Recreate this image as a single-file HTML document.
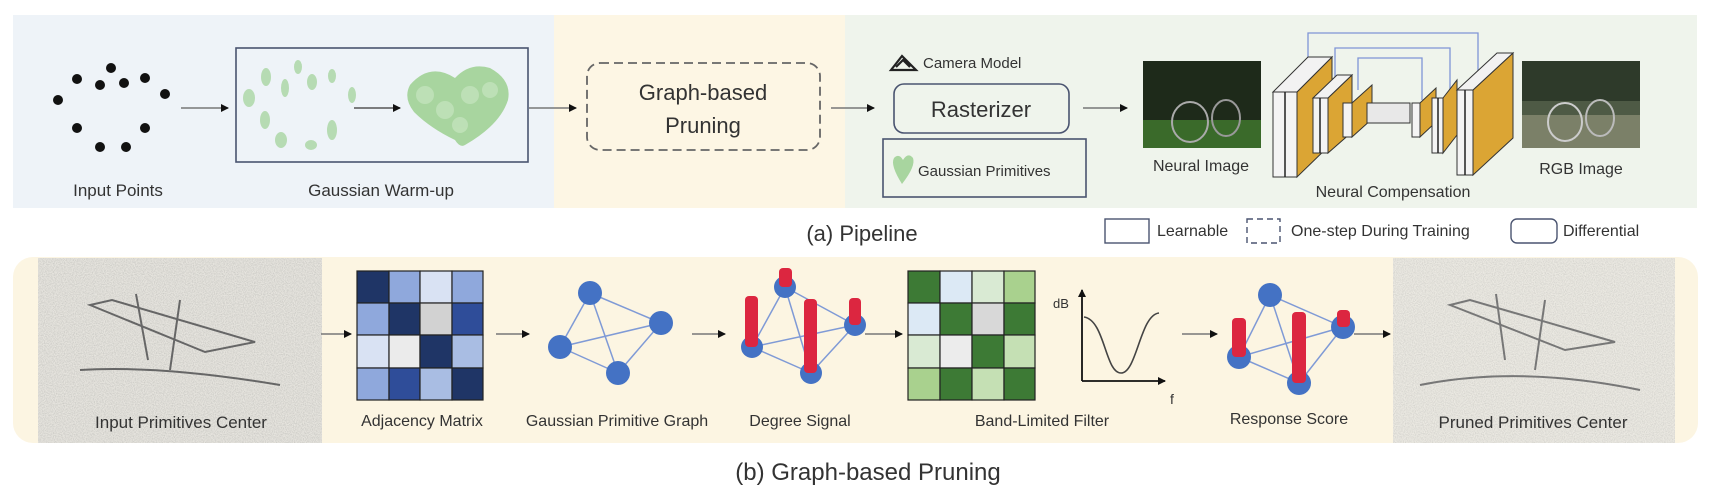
<!DOCTYPE html>
<html><head><meta charset="utf-8"><style>
html,body{margin:0;padding:0;background:#fff;}
svg{display:block;}
text{font-family:"Liberation Sans",sans-serif;fill:#333;}
</style></head><body>
<svg width="1718" height="500" viewBox="0 0 1718 500" xmlns="http://www.w3.org/2000/svg">
<defs>
<marker id="ah" markerWidth="8" markerHeight="8" refX="7" refY="4" orient="auto" markerUnits="userSpaceOnUse"><path d="M0,0 L8,4 L0,8 z" fill="#111"/></marker>
<filter id="nz" x="0" y="0" width="1" height="1"><feTurbulence type="fractalNoise" baseFrequency="0.9" numOctaves="2" seed="3"/><feColorMatrix values="0 0 0 0 0.45  0 0 0 0 0.45  0 0 0 0 0.43  0 0 0 -1.6 1.05"/></filter>
</defs>
<!-- top panel -->
<rect x="13" y="15" width="541" height="193" fill="#eef3f8"/>
<rect x="554" y="15" width="291" height="193" fill="#fdf6e4"/>
<rect x="845" y="15" width="852" height="193" fill="#eff4ec"/>
<g fill="#111">
<circle cx="58" cy="100" r="5"/><circle cx="77" cy="79" r="5"/><circle cx="100" cy="85" r="5"/><circle cx="111" cy="68" r="5"/><circle cx="124" cy="83" r="5"/><circle cx="145" cy="78" r="5"/><circle cx="165" cy="94" r="5"/><circle cx="77" cy="128" r="5"/><circle cx="145" cy="128" r="5"/><circle cx="100" cy="147" r="5"/><circle cx="126" cy="147" r="5"/>
</g>
<text x="118" y="196" font-size="17" text-anchor="middle">Input Points</text>
<line x1="181" y1="108" x2="228" y2="108" stroke="#777" stroke-width="1.5" marker-end="url(#ah)"/>
<rect x="236" y="48" width="292" height="114" fill="none" stroke="#4a5470" stroke-width="1.6"/>
<g fill="#a9d6a2" opacity="0.8">
<ellipse cx="249" cy="98" rx="6" ry="9"/><ellipse cx="266" cy="77" rx="5" ry="9"/><ellipse cx="285" cy="88" rx="4" ry="9"/><ellipse cx="298" cy="67" rx="4" ry="7"/><ellipse cx="312" cy="82" rx="5" ry="8"/><ellipse cx="332" cy="76" rx="4" ry="7"/><ellipse cx="352" cy="95" rx="4" ry="8"/><ellipse cx="265" cy="120" rx="5" ry="9"/><ellipse cx="332" cy="130" rx="5" ry="10"/><ellipse cx="281" cy="140" rx="6" ry="8"/><ellipse cx="311" cy="145" rx="6" ry="5"/>
</g>
<line x1="354" y1="108" x2="400" y2="108" stroke="#555" stroke-width="1.5" marker-end="url(#ah)"/>
<path d="M410,85 Q430,62 455,78 Q470,62 490,68 Q512,80 508,100 Q500,125 465,145 Q460,148 455,140 Q430,128 414,112 Q403,98 410,85 z" fill="#a8d59f"/>
<g fill="#c3e3bc" opacity="0.8"><circle cx="425" cy="95" r="9"/><circle cx="445" cy="110" r="9"/><circle cx="470" cy="95" r="9"/><circle cx="490" cy="90" r="8"/><circle cx="460" cy="125" r="8"/></g>
<text x="381" y="196" font-size="17" text-anchor="middle">Gaussian Warm-up</text>
<line x1="529" y1="108" x2="576" y2="108" stroke="#777" stroke-width="1.5" marker-end="url(#ah)"/>
<rect x="587" y="63" width="233" height="87" rx="13" fill="none" stroke="#666" stroke-width="1.8" stroke-dasharray="9,5"/>
<text x="703" y="100" font-size="22" text-anchor="middle">Graph-based</text>
<text x="703" y="133" font-size="22" text-anchor="middle">Pruning</text>
<line x1="831" y1="108" x2="874" y2="108" stroke="#777" stroke-width="1.5" marker-end="url(#ah)"/>
<path d="M891,70 L902,56 L916,70 z M896,67 L903,60 L910,67" fill="none" stroke="#222" stroke-width="2.2"/>
<text x="923" y="68" font-size="15">Camera Model</text>
<rect x="894" y="84" width="175" height="49" rx="10" fill="none" stroke="#4a5470" stroke-width="1.6"/>
<text x="981" y="117" font-size="22" text-anchor="middle">Rasterizer</text>
<rect x="883" y="139" width="203" height="58" fill="none" stroke="#4a5470" stroke-width="1.6"/>
<path d="M902,184 Q890,165 894,158 Q899,153 903,160 Q908,152 913,158 Q916,166 902,184 z" fill="#a8d59f"/>
<text x="918" y="176" font-size="15">Gaussian Primitives</text>
<line x1="1083" y1="108" x2="1127" y2="108" stroke="#777" stroke-width="1.5" marker-end="url(#ah)"/>
<rect x="1143" y="61" width="118" height="87" fill="#1e2a1a"/>
<rect x="1143" y="120" width="118" height="28" fill="#3a6a2a"/>
<ellipse cx="1190" cy="122" rx="18" ry="20" fill="none" stroke="#aaa" stroke-width="2"/><ellipse cx="1226" cy="118" rx="14" ry="18" fill="none" stroke="#999" stroke-width="2"/>
<text x="1201" y="171" font-size="16" text-anchor="middle">Neural Image</text>
<g fill="none" stroke="#7f95d6" stroke-width="1.3">
<path d="M1308,72 V33 H1478 V75"/><path d="M1335,78 V48 H1450 V95"/><path d="M1358,90 V58 H1422 V100"/>
</g>
<g stroke="#333" stroke-width="1">
<polygon points="1297,92 1332,57 1332,143 1297,177" fill="#dba534"/>
<polygon points="1273,92 1297,92 1332,57 1308,57" fill="#f2f2f2"/>
<rect x="1273" y="92" width="24" height="85" fill="#f4f4f4"/>
<polygon points="1328,98 1352,75 1352,132 1328,153" fill="#dba534"/>
<polygon points="1313,98 1328,98 1352,75 1337,75" fill="#f2f2f2"/>
<rect x="1313" y="98" width="15" height="55" fill="#f4f4f4"/>
<polygon points="1352,103 1372,85 1372,119 1352,137" fill="#dba534"/>
<rect x="1343" y="103" width="9" height="34" fill="#f4f4f4"/>
<rect x="1367" y="103" width="43" height="20" fill="#e8e8e8"/>
<polygon points="1420,103 1436,88 1436,122 1420,137" fill="#dba534"/>
<rect x="1412" y="103" width="8" height="34" fill="#f4f4f4"/>
<polygon points="1443,98 1457,80 1457,135 1443,153" fill="#dba534"/>
<rect x="1432" y="98" width="11" height="55" fill="#f4f4f4"/>
<polygon points="1473,90 1513,53 1513,138 1473,175" fill="#dba534"/>
<polygon points="1457,90 1473,90 1513,53 1497,53" fill="#f2f2f2"/>
<rect x="1457" y="90" width="16" height="85" fill="#f4f4f4"/>
</g>
<g stroke="#222" stroke-width="1.5"><line x1="1285" y1="92" x2="1285" y2="177"/><line x1="1320" y1="98" x2="1320" y2="153"/><line x1="1465" y1="90" x2="1465" y2="175"/><line x1="1438" y1="98" x2="1438" y2="153"/></g>
<text x="1393" y="197" font-size="16" text-anchor="middle">Neural Compensation</text>
<rect x="1522" y="61" width="118" height="87" fill="#4e5a45"/>
<rect x="1522" y="61" width="118" height="40" fill="#2e3a2a"/>
<rect x="1522" y="115" width="118" height="33" fill="#7b8068"/>
<ellipse cx="1565" cy="122" rx="17" ry="19" fill="none" stroke="#ccc" stroke-width="2"/><ellipse cx="1600" cy="118" rx="14" ry="18" fill="none" stroke="#bbb" stroke-width="2"/>
<text x="1581" y="174" font-size="16" text-anchor="middle">RGB Image</text>
<text x="862" y="241" font-size="22" text-anchor="middle">(a) Pipeline</text>
<rect x="1105" y="219" width="44" height="24" fill="none" stroke="#4a5470" stroke-width="1.4"/>
<text x="1157" y="236" font-size="16">Learnable</text>
<rect x="1247" y="219" width="33" height="24" fill="none" stroke="#4a5470" stroke-width="1.4" stroke-dasharray="6,4"/>
<text x="1291" y="236" font-size="16">One-step During Training</text>
<rect x="1511" y="219" width="46" height="24" rx="6" fill="none" stroke="#4a5470" stroke-width="1.4"/>
<text x="1563" y="236" font-size="16">Differential</text>
<!-- bottom panel -->
<rect x="13" y="257" width="1685" height="186" rx="20" fill="#fcf5e2"/>
<rect x="38" y="258" width="284" height="185" fill="#e6e4de"/>
<rect x="38" y="258" width="284" height="185" filter="url(#nz)" opacity="0.7"/>
<g fill="none" stroke="#666" stroke-width="2"><path d="M90,305 L205,352 L255,342 L112,300 z"/><line x1="136" y1="294" x2="148" y2="360"/><line x1="180" y1="300" x2="170" y2="370"/><path d="M80,370 Q160,365 280,385"/></g>
<text x="181" y="428" font-size="17" text-anchor="middle" fill="#333">Input Primitives Center</text>
<line x1="321" y1="334" x2="351" y2="334" stroke="#777" stroke-width="1.5" marker-end="url(#ah)"/>
<g stroke="#222" stroke-width="1.2">
<rect x="357" y="271" width="32" height="32" fill="#1f3566"/><rect x="389" y="271" width="31" height="32" fill="#8fa8dc"/><rect x="420" y="271" width="32" height="32" fill="#d9e2f3"/><rect x="452" y="271" width="31" height="32" fill="#8fa8dc"/>
<rect x="357" y="303" width="32" height="32" fill="#8fa8dc"/><rect x="389" y="303" width="31" height="32" fill="#1f3566"/><rect x="420" y="303" width="32" height="32" fill="#d2d2d2"/><rect x="452" y="303" width="31" height="32" fill="#2f4d99"/>
<rect x="357" y="335" width="32" height="33" fill="#d9e2f3"/><rect x="389" y="335" width="31" height="33" fill="#ebebeb"/><rect x="420" y="335" width="32" height="33" fill="#1f3566"/><rect x="452" y="335" width="31" height="33" fill="#a9bde3"/>
<rect x="357" y="368" width="32" height="32" fill="#8fa8dc"/><rect x="389" y="368" width="31" height="32" fill="#2f4d99"/><rect x="420" y="368" width="32" height="32" fill="#a9bde3"/><rect x="452" y="368" width="31" height="32" fill="#1f3566"/>
</g>
<text x="422" y="426" font-size="16" text-anchor="middle">Adjacency Matrix</text>
<line x1="496" y1="334" x2="529" y2="334" stroke="#777" stroke-width="1.5" marker-end="url(#ah)"/>
<g stroke="#7f9ad6" stroke-width="1.5"><line x1="590" y1="293" x2="661" y2="323"/><line x1="590" y1="293" x2="560" y2="347"/><line x1="590" y1="293" x2="618" y2="373"/><line x1="661" y1="323" x2="560" y2="347"/><line x1="661" y1="323" x2="618" y2="373"/><line x1="560" y1="347" x2="618" y2="373"/></g>
<g fill="#4472c4"><circle cx="590" cy="293" r="12"/><circle cx="661" cy="323" r="12"/><circle cx="560" cy="347" r="12"/><circle cx="618" cy="373" r="12"/></g>
<text x="617" y="426" font-size="16" text-anchor="middle">Gaussian Primitive Graph</text>
<line x1="692" y1="334" x2="725" y2="334" stroke="#777" stroke-width="1.5" marker-end="url(#ah)"/>
<g stroke="#7f9ad6" stroke-width="1.5"><line x1="752" y1="347" x2="785" y2="287"/><line x1="785" y1="287" x2="855" y2="325"/><line x1="752" y1="347" x2="855" y2="325"/><line x1="785" y1="287" x2="811" y2="373"/><line x1="752" y1="347" x2="811" y2="373"/><line x1="811" y1="373" x2="855" y2="325"/></g>
<g fill="#4472c4"><circle cx="752" cy="347" r="11"/><circle cx="785" cy="287" r="11"/><circle cx="811" cy="373" r="11"/><circle cx="855" cy="325" r="11"/></g>
<g fill="#dc2640"><rect x="745" y="296" width="13" height="51" rx="4"/><rect x="779" y="268" width="13" height="19" rx="4"/><rect x="804" y="299" width="13" height="74" rx="4"/><rect x="849" y="298" width="12" height="27" rx="4"/></g>
<text x="800" y="426" font-size="16" text-anchor="middle">Degree Signal</text>
<line x1="865" y1="334" x2="902" y2="334" stroke="#777" stroke-width="1.5" marker-end="url(#ah)"/>
<g stroke="#222" stroke-width="1.2">
<rect x="908" y="271" width="32" height="32" fill="#3d7a35"/><rect x="940" y="271" width="32" height="32" fill="#dce9f5"/><rect x="972" y="271" width="32" height="32" fill="#d9ead3"/><rect x="1004" y="271" width="31" height="32" fill="#a9d18e"/>
<rect x="908" y="303" width="32" height="32" fill="#dce9f5"/><rect x="940" y="303" width="32" height="32" fill="#3d7a35"/><rect x="972" y="303" width="32" height="32" fill="#d8d8d8"/><rect x="1004" y="303" width="31" height="32" fill="#3d7a35"/>
<rect x="908" y="335" width="32" height="33" fill="#d9ead3"/><rect x="940" y="335" width="32" height="33" fill="#ececec"/><rect x="972" y="335" width="32" height="33" fill="#3d7a35"/><rect x="1004" y="335" width="31" height="33" fill="#c5e0b4"/>
<rect x="908" y="368" width="32" height="32" fill="#a9d18e"/><rect x="940" y="368" width="32" height="32" fill="#3d7a35"/><rect x="972" y="368" width="32" height="32" fill="#c5e0b4"/><rect x="1004" y="368" width="31" height="32" fill="#3d7a35"/>
</g>
<path d="M1082,381 V290" stroke="#111" stroke-width="1.8" marker-end="url(#ah)"/>
<path d="M1082,381 H1165" stroke="#111" stroke-width="1.8" marker-end="url(#ah)"/>
<text x="1053" y="308" font-size="13" font-family="Liberation Serif">dB</text>
<text x="1170" y="404" font-size="14" font-family="Liberation Serif">f</text>
<path d="M1084,317 C1105,320 1105,373 1121,373 C1137,373 1140,315 1159,313" fill="none" stroke="#444" stroke-width="1.6"/>
<text x="1042" y="426" font-size="16" text-anchor="middle">Band-Limited Filter</text>
<line x1="1182" y1="334" x2="1217" y2="334" stroke="#777" stroke-width="1.5" marker-end="url(#ah)"/>
<g stroke="#7f9ad6" stroke-width="1.5"><line x1="1270" y1="295" x2="1343" y2="327"/><line x1="1270" y1="295" x2="1239" y2="357"/><line x1="1270" y1="295" x2="1299" y2="383"/><line x1="1239" y1="357" x2="1343" y2="327"/><line x1="1239" y1="357" x2="1299" y2="383"/><line x1="1299" y1="383" x2="1343" y2="327"/></g>
<g fill="#4472c4"><circle cx="1270" cy="295" r="12"/><circle cx="1343" cy="327" r="12"/><circle cx="1239" cy="357" r="12"/><circle cx="1299" cy="383" r="12"/></g>
<g fill="#dc2640"><rect x="1232" y="318" width="14" height="39" rx="4"/><rect x="1292" y="312" width="14" height="71" rx="4"/><rect x="1337" y="310" width="13" height="17" rx="4"/></g>
<text x="1289" y="424" font-size="16" text-anchor="middle">Response Score</text>
<line x1="1354" y1="334" x2="1390" y2="334" stroke="#777" stroke-width="1.5" marker-end="url(#ah)"/>
<rect x="1393" y="258" width="282" height="185" fill="#ebe9e2"/>
<rect x="1393" y="258" width="282" height="185" filter="url(#nz)" opacity="0.55"/>
<g fill="none" stroke="#777" stroke-width="2"><path d="M1450,305 L1565,350 L1615,342 L1470,300 z"/><line x1="1496" y1="294" x2="1505" y2="360"/><line x1="1545" y1="300" x2="1535" y2="370"/><path d="M1420,385 Q1520,365 1640,390"/></g>
<text x="1533" y="428" font-size="17" text-anchor="middle" fill="#333">Pruned Primitives Center</text>
<text x="868" y="480" font-size="24" text-anchor="middle">(b) Graph-based Pruning</text>
</svg>
</body></html>
